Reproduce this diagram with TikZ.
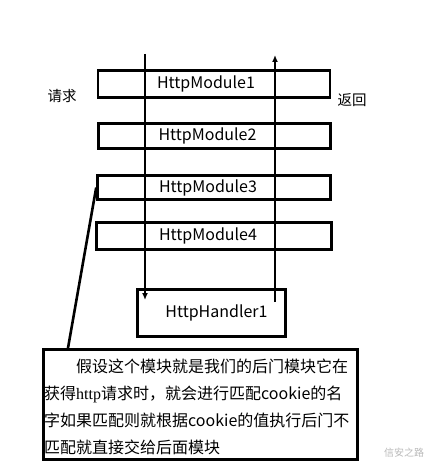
\documentclass[tikz,border=0pt]{standalone}
\usepackage{fontspec}
\setmainfont{Noto Sans CJK SC}
\newfontfamily\httpfont{Liberation Serif}
\usetikzlibrary{arrows.meta}
\tikzset{>={Latex[length=7pt,width=6pt]}}
\tikzstyle{modbox}=[draw,line width=2.6pt,inner sep=0]
\tikzstyle{every label}=[font=\fontsize{16}{18}\selectfont]
\tikzstyle{flow}=[->,line width=1.8pt]

\begin{document}
\begin{tikzpicture}[x=1pt,y=-1pt]
  \useasboundingbox (0,0) rectangle (436,473);
  \def\bw{232}
  \def\bh{27}

  % modules
  \node[modbox,minimum width=\bw,minimum height=\bh,
        label={[xshift=-8pt]center:HttpModule1}] (m1) at (214,84) {};
  \node[modbox,minimum width=\bw,minimum height=\bh-2,
        label={[xshift=-7pt]center:HttpModule2}] (m2) at (214.5,136) {};
  \node[modbox,minimum width=\bw+1,minimum height=\bh-3,
        label={[xshift=-6pt]center:HttpModule3}] (m3) at (214,187.5) {};
  \node[modbox,minimum width=\bw+3,minimum height=\bh,
        label={[xshift=-6pt]center:HttpModule4}] (m4) at (214,236) {};

  % handler
  \node[modbox,minimum width=148,minimum height=47,
        label={[xshift=5pt]center:HttpHandler1}] (h1) at (211.5,313) {};

  % request / return
  \coordinate (reqin) at (145,54);
  \coordinate (reqout) at (145,300);
  \coordinate (retin) at (275,302);
  \coordinate (retout) at (275,55);
  \draw[flow] (reqin) -- (reqout);
  \draw[flow] (retin) -- (retout);
  \node[font=\fontsize{14.5}{16}\selectfont] (req) at (62,96) {请求};
  \node[font=\fontsize{14.5}{16}\selectfont] (ret) at (352,100) {返回};

  % note
  \node[modbox,minimum width=314,minimum height=110] (note) at (200.5,404.5) {};
  \node[anchor=north west,inner sep=0,text width=320,align=left,
        font=\fontsize{16}{27}\selectfont] (notetext) at (44,359)
    {\hspace*{2em}假设这个模块就是我们的后门模块它在\\
     获得{\httpfont http}请求时，就会进行匹配cookie的名\\
     字如果匹配则就根据cookie的值执行后门不\\
     匹配就直接交给后面模块};
  \coordinate (notetop) at (68,348);
  \draw[line width=2.6pt] (m3.west) -- (notetop);

  % watermark
  \node[gray!55,font=\fontsize{10}{12}\selectfont] (wm) at (404,453) {信安之路};
\end{tikzpicture}
\end{document}
